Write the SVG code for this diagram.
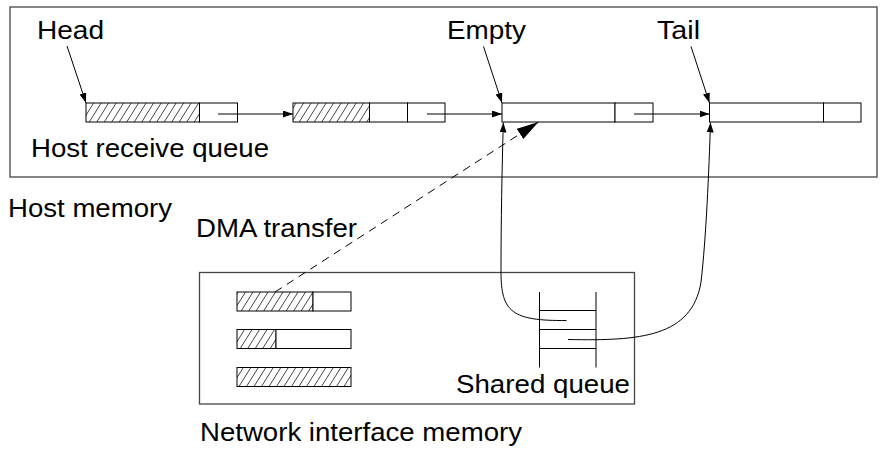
<svg xmlns="http://www.w3.org/2000/svg" width="887" height="451" viewBox="0 0 887 451">
<style>
text{font-family:"Liberation Sans",Arial,Helvetica,sans-serif;font-size:25.6px;fill:#000}
.frame{fill:#fff;stroke:#444;stroke-width:1.3}
.cell{fill:#fff;stroke:#000;stroke-width:1}
.hatch{fill:url(#hatch);stroke:#000;stroke-width:1}
.link{fill:none;stroke:#000;stroke-width:1;marker-end:url(#ah)}
.q{stroke:#000;stroke-width:1;fill:none}
</style>
<defs>
<pattern id="hatch" patternUnits="userSpaceOnUse" width="7.5" height="40" patternTransform="skewX(-32)">
<rect width="7.5" height="40" fill="#fff"/>
<line x1="0.5" y1="0" x2="0.5" y2="40" stroke="#222" stroke-width="0.8"/>
</pattern>
<marker id="ah" markerUnits="userSpaceOnUse" markerWidth="12" markerHeight="8" refX="10" refY="3.5" orient="auto" viewBox="0 0 12 8">
<path d="M0,0 L10,3.5 L0,7 Z" fill="#000"/>
</marker>
<marker id="bigah" markerUnits="userSpaceOnUse" markerWidth="24" markerHeight="14" refX="22" refY="6" orient="auto" viewBox="0 0 24 14">
<path d="M0,0 L22,6 L0,12 Z" fill="#000"/>
</marker>
</defs>
<rect width="887" height="451" fill="#fff"/>

<g id="host-memory">
<rect class="frame" x="10" y="7" width="867" height="170"/>
<text x="8" y="217" textLength="164" lengthAdjust="spacingAndGlyphs">Host memory</text>
</g>

<g id="nic-memory">
<rect class="frame" x="199.5" y="272.5" width="435" height="131.5"/>
<text x="200" y="441" textLength="322" lengthAdjust="spacingAndGlyphs">Network interface memory</text>
</g>

<g id="host-receive-queue">
<text x="31" y="157" textLength="238" lengthAdjust="spacingAndGlyphs">Host receive queue</text>
</g>

<g id="buf1">
<rect class="hatch" x="86" y="103" width="113.5" height="19"/>
<rect class="cell" x="199.5" y="103" width="38" height="19"/>
</g>
<g id="buf2">
<rect class="hatch" x="293" y="103" width="76.5" height="19"/>
<rect class="cell" x="369.5" y="103" width="38" height="19"/>
<rect class="cell" x="407.5" y="103" width="37.5" height="19"/>
</g>
<g id="buf3">
<rect class="cell" x="502" y="103" width="113" height="19"/>
<rect class="cell" x="615" y="103" width="38" height="19"/>
</g>
<g id="buf4">
<rect class="cell" x="709.5" y="103" width="114" height="19"/>
<rect class="cell" x="823.5" y="103" width="37.5" height="19"/>
</g>

<g id="label-head"><text x="37" y="39" textLength="67" lengthAdjust="spacingAndGlyphs">Head</text></g>
<g id="label-empty"><text x="447" y="39" textLength="79" lengthAdjust="spacingAndGlyphs">Empty</text></g>
<g id="label-tail"><text x="657" y="39" textLength="43" lengthAdjust="spacingAndGlyphs">Tail</text></g>

<g id="nic-buf1">
<rect class="hatch" x="237" y="292" width="76" height="19"/>
<rect class="cell" x="313" y="292" width="38" height="19"/>
</g>
<g id="nic-buf2">
<rect class="hatch" x="237" y="329.5" width="39" height="19"/>
<rect class="cell" x="276" y="329.5" width="75" height="19"/>
</g>
<g id="nic-buf3">
<rect class="hatch" x="237" y="367.5" width="114" height="19"/>
</g>

<g id="shared-queue">
<line class="q" x1="539.5" y1="292" x2="539.5" y2="367.5"/>
<line class="q" x1="596" y1="292" x2="596" y2="367.5"/>
<line class="q" x1="539.5" y1="310.5" x2="596" y2="310.5"/>
<line class="q" x1="539.5" y1="329.5" x2="596" y2="329.5"/>
<line class="q" x1="539.5" y1="348.5" x2="596" y2="348.5"/>
<text x="456" y="393" textLength="174" lengthAdjust="spacingAndGlyphs">Shared queue</text>
</g>

<g id="connectors">
<line class="link" x1="218" y1="114" x2="293" y2="114"/>
<line class="link" x1="427" y1="114" x2="502" y2="114"/>
<line class="link" x1="634" y1="114" x2="709.5" y2="114"/>
<line class="link" x1="67" y1="46" x2="86" y2="103"/>
<line class="link" x1="483.5" y1="46.5" x2="502" y2="103"/>
<line class="link" x1="691" y1="46.5" x2="709.5" y2="103"/>
<path class="link" d="M566.5,320.5 C512,321 501,312 501,272 C501,222 502,170 503.3,122.5"/>
<path class="link" d="M568,339.5 C640,341 692,337 701,282 C706,240 709,170 710.5,122.5"/>
<line x1="275" y1="292" x2="538.5" y2="122" stroke="#000" stroke-width="1" stroke-dasharray="8,6" marker-end="url(#bigah)"/>
<text x="196" y="237" textLength="161" lengthAdjust="spacingAndGlyphs">DMA transfer</text>
</g>
</svg>
